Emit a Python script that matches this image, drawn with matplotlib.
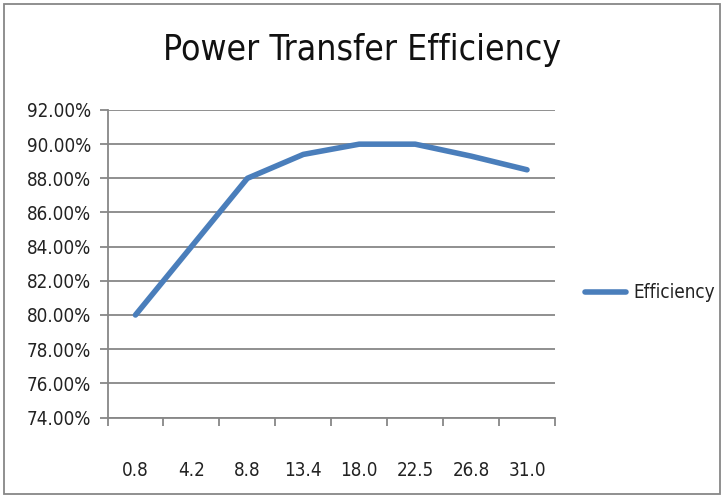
import matplotlib
matplotlib.use("Agg")
import matplotlib.pyplot as plt
from matplotlib.ticker import FuncFormatter
from matplotlib.patches import Rectangle

categories = ["0.8", "4.2", "8.8", "13.4", "18.0", "22.5", "26.8", "31.0"]
efficiency = [80.0, 84.0, 88.0, 89.4, 90.0, 90.0, 89.3, 88.5]
title = "Power Transfer Efficiency"
series_name = "Efficiency"

# no narrow font installed, so use the condensed DejaVu face
plt.rcParams['font.family'] = ['DejaVu Sans']
plt.rcParams['font.stretch'] = 'condensed'

fig = plt.figure(figsize=(7.24, 4.98), dpi=100)
ax = fig.add_axes([107.5/724, 1 - 417.5/498, (555-107.5)/724, (417.5-110)/498])

xpos = range(len(categories))
ax.plot(xpos, efficiency, color='#4a7ebb', lw=4.0, solid_capstyle='round',
        solid_joinstyle='round', label=series_name)

ax.set_xlim(-0.5, len(categories) - 0.5)
ax.set_ylim(74, 92)
ax.set_yticks(range(74, 93, 2))
ax.yaxis.set_major_formatter(FuncFormatter(lambda v, p: "%.2f%%" % v))
ax.set_xticks([i for i in xpos])
ax.set_xticklabels(categories)
ax.set_xticks([i - 0.5 for i in range(len(categories) + 1)], minor=True)
ax.tick_params(axis='x', which='major', length=0, pad=31, labelsize=13.5)
ax.tick_params(axis='x', which='minor', length=6, color='#878787', width=1.3)
ax.tick_params(axis='y', length=6, color='#878787', width=1.3, labelsize=13.5, pad=6)
ax.tick_params(axis='both', labelcolor='#222222')
ax.grid(axis='y', color='#878787', lw=1.3)
ax.set_axisbelow(True)
for s in ['top', 'right']:
    ax.spines[s].set_visible(False)
for s in ['left', 'bottom']:
    ax.spines[s].set_color('#878787')
    ax.spines[s].set_linewidth(1.3)

fig.text(0.5, 1 - 50/498, title, ha='center', va='center', fontsize=25.5, color='#111111')

leg = fig.legend(loc='center left', bbox_to_anchor=(568/724, 1 - 293/498), frameon=False,
                 fontsize=13.5, handlelength=2.2, handletextpad=0.4)
for t in leg.get_texts():
    t.set_color('#222222')

fig.patches.append(Rectangle((4/724, 4/498), 716/724, 490/498, transform=fig.transFigure,
                             fill=False, edgecolor='#878787', lw=1.3))

fig.savefig("out.png", dpi=100)
